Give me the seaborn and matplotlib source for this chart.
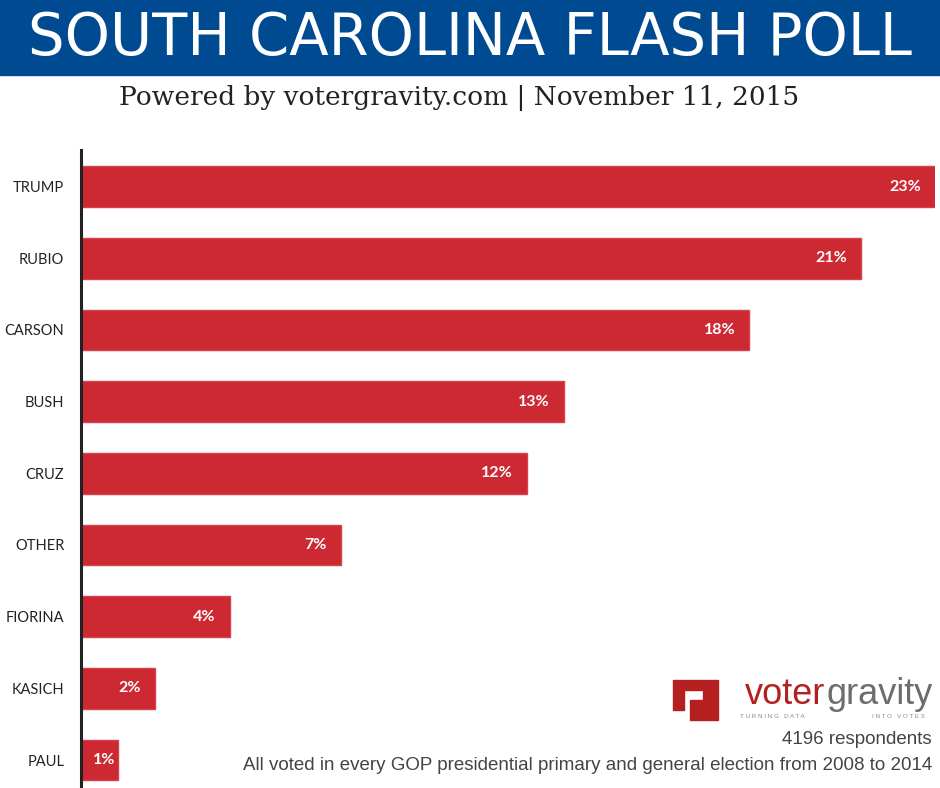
import pandas as pd
import seaborn as sns
import matplotlib.pyplot as plt
from matplotlib.patches import Rectangle, Polygon

# poll results
candidates = ['TRUMP', 'RUBIO', 'CARSON', 'BUSH', 'CRUZ', 'OTHER', 'FIORINA', 'KASICH', 'PAUL']
shares = [23, 21, 18, 13, 12, 7, 4, 2, 1]
respondents = 4196

poll = pd.DataFrame({'candidate': candidates, 'share': shares})

sns.set_style('white')
plt.rcParams['font.family'] = ['Lato', 'DejaVu Sans']

W, H = 940, 788
fig = plt.figure(figsize=(W / 100, H / 100), dpi=100)

# blue header band
fig.patches.append(Rectangle((0, 1 - 75 / H), 1, 75 / H, transform=fig.transFigure,
                             color='#004a91', zorder=0))
fig.text(470 / W, 1 - 39 / H, 'SOUTH CAROLINA FLASH POLL', color='white',
         fontsize=41.5, family='DejaVu Sans', ha='center', va='center')
fig.text(459 / W, 1 - 98 / H, 'Powered by votergravity.com | November 11, 2015',
         color='#222222', fontsize=19, family='DejaVu Serif', ha='center', va='center')

# bars
ax = fig.add_axes([81 / W, 0, (935 - 81) / W, (788 - 150) / H])
sns.barplot(data=poll, y='candidate', x='share', color='#cc2933', width=0.57,
            edgecolor='#d8414a', linewidth=1, saturation=1, ax=ax)
ax.set_xlim(0, 23)
ax.set_ylim(8.39, -0.51)
ax.set_xlabel('')
ax.set_ylabel('')
ax.set_xticks([])
for s in ['top', 'right', 'bottom']:
    ax.spines[s].set_visible(False)
ax.spines['left'].set_color('#222222')
ax.spines['left'].set_linewidth(2.2)
ax.tick_params(axis='y', length=0, pad=12, labelsize=10.5, labelcolor='#222222')

for i, v in enumerate(shares):
    if v > 1:
        ax.annotate(f'{v}%', (v, i), xytext=(-10, 0), textcoords='offset points',
                    ha='right', va='center', color='white', fontsize=11.5, fontweight='bold')
    else:
        # too short for the usual padding
        ax.annotate(f'{v}%', (0, i), xytext=(8.5, 0), textcoords='offset points',
                    ha='left', va='center', color='white', fontsize=11.5, fontweight='bold')

# votergravity logo
pts = [[673, 680], [718, 680], [718, 720], [690, 720], [690, 700], [703, 700],
       [703, 690], [684, 690], [684, 710], [673, 710]]
icon = Polygon([[x / W, 1 - y / H] for x, y in pts], closed=True,
               transform=fig.transFigure, color='#b51f1f')
fig.patches.append(icon)
fig.text(745 / W, 1 - 695 / H, 'voter', color='#b51f1f', fontsize=26,
         family='Liberation Sans', ha='left', va='center')
fig.text(933 / W, 1 - 695 / H, 'gravity', color='#6d6d6d', fontsize=26,
         family='Liberation Sans', ha='right', va='center')
fig.text(740 / W, 1 - 717 / H, 'T U R N I N G   D A T A', color='#888888', fontsize=4.5,
         family='Liberation Sans', ha='left', va='center')
fig.text(925 / W, 1 - 717 / H, 'I N T O   V O T E S', color='#888888', fontsize=4.5,
         family='Liberation Sans', ha='right', va='center')

fig.text(932 / W, 1 - 740 / H, f'{respondents} respondents', color='#444444', fontsize=13.5,
         family='Liberation Sans', ha='right', va='center')
fig.text(932 / W, 1 - 765 / H,
         'All voted in every GOP presidential primary and general election from 2008 to 2014',
         color='#444444', fontsize=13.5, family='Liberation Sans', ha='right', va='center')

fig.savefig('out.png', dpi=100)
